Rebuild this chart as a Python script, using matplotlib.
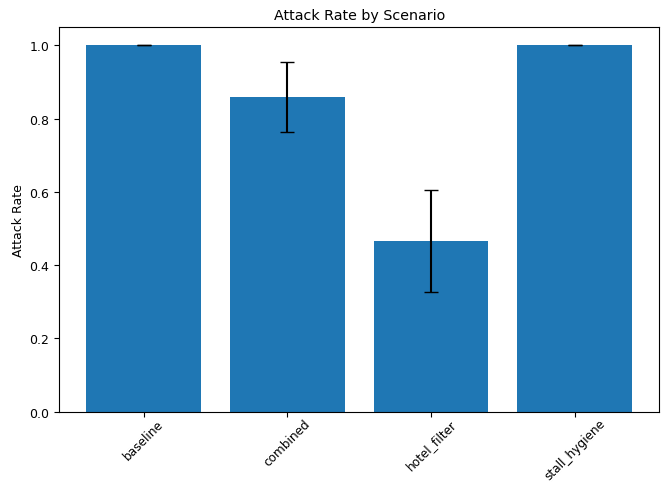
import matplotlib
matplotlib.use("Agg")
import matplotlib.pyplot as plt

scenarios = ["baseline", "combined", "hotel_filter", "stall_hygiene"]
attack_rate = [1.0, 0.860, 0.466, 1.0]
attack_rate_err = [0.0, 0.096, 0.138, 0.0]

plt.rcParams["font.size"] = 9
plt.rcParams["xtick.labelsize"] = 8.7
plt.rcParams["xtick.major.pad"] = 0

fig, ax = plt.subplots(figsize=(6.64, 4.85), dpi=100)
ax.bar(scenarios, attack_rate, yerr=attack_rate_err, capsize=5, color="#1f77b4")
ax.set_ylabel("Attack Rate", labelpad=3)
ax.set_title("Attack Rate by Scenario", fontsize=10.3)
plt.setp(ax.get_xticklabels(), rotation=45)
fig.subplots_adjust(left=0.089, right=0.993, top=0.942, bottom=0.149)
fig.savefig("out.png")
